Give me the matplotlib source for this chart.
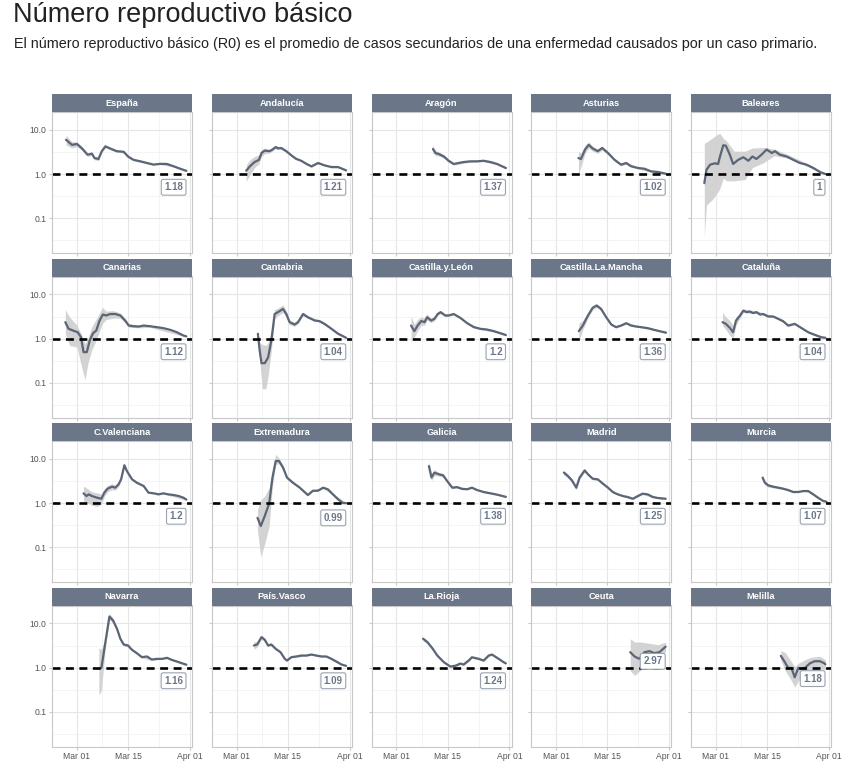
import numpy as np
import matplotlib.pyplot as plt

# Regions in panel order (5 columns x 4 rows)
regions = ["España", "Andalucía", "Aragón", "Asturias", "Baleares",
           "Canarias", "Cantabria", "Castilla.y.León", "Castilla.La.Mancha", "Cataluña",
           "C.Valenciana", "Extremadura", "Galicia", "Madrid", "Murcia",
           "Navarra", "País.Vasco", "La.Rioja", "Ceuta", "Melilla"]

# Last estimated R0 (shown in the boxed label)
last_r = [1.18, 1.21, 1.37, 1.02, 1, 1.12, 1.04, 1.2, 1.36, 1.04,
          1.2, 0.99, 1.38, 1.25, 1.07, 1.16, 1.09, 1.24, 2.97, 1.18]

# Day offsets from Mar 01 and estimated R0
days = {
    "España": [-3, -1.4, 0, 1.4, 2.9, 4.1, 4.8, 5.9, 6.8, 7.8, 9.1, 10.9, 12.8, 14, 15.5, 17.4, 19.2, 21, 22.8, 24.7, 26.5, 28.3, 30],
    "Andalucía": [2.6, 3.6, 4.9, 6.1, 6.8, 7.7, 9.0, 9.8, 10.7, 11.3, 12.2, 13.6, 15, 16.3, 17.7, 19.1, 20.5, 22.3, 24.1, 26, 27.8, 30],
    "Aragón": [10, 10.7, 11.6, 13, 14.3, 15.7, 17.1, 18.4, 20.3, 22.1, 23.9, 25.8, 27.6, 30],
    "Asturias": [6.1, 6.8, 7.9, 8.9, 10, 11.4, 12.6, 14.2, 16, 17.8, 19.2, 20.5, 22.4, 24.2, 26, 27.9, 30],
    "Baleares": [-3.2, -2.6, -1.6, -0.3, 0.6, 1.1, 2.0, 2.7, 3.8, 4.7, 6.1, 7.5, 8.9, 10, 11.1, 12.5, 13.9, 15.3, 16.2, 17.5, 19.4, 21.2, 23, 24.8, 26.7, 28.5, 30],
    "Canarias": [-3.2, -2.3, -1.1, 0.2, 1.1, 1.8, 2.7, 3.5, 4.4, 5.3, 6.2, 7.1, 8.0, 9.1, 10.5, 11.9, 13.2, 14.2, 15.5, 16.9, 18.3, 20.1, 21.9, 23.7, 25.6, 27.4, 29.2, 30],
    "Cantabria": [5.8, 6.3, 6.8, 7.7, 8.6, 9.5, 10.4, 11.3, 12.7, 13.6, 14.5, 15.9, 16.8, 18.2, 19.5, 21.4, 22.7, 24.1, 26, 27.8, 30],
    "Castilla.y.León": [4.0, 4.9, 5.8, 6.8, 7.7, 8.4, 9.5, 10.4, 11.3, 12.1, 13.4, 14.3, 15.7, 17.5, 19.4, 21.2, 23, 24.8, 26.7, 28.5, 30],
    "Castilla.La.Mancha": [6.2, 7.3, 8.7, 10, 11.1, 12.3, 13.7, 15.1, 16.4, 17.8, 19.2, 20.5, 21.9, 23.3, 25.1, 26.9, 28.8, 30.1],
    "Cataluña": [1.8, 2.7, 3.8, 4.7, 5.5, 6.6, 7.5, 8.4, 9.3, 10.2, 11.1, 12.1, 13, 14.3, 15.7, 17.1, 18.4, 19.8, 21.6, 23.5, 25.3, 27.1, 29, 30],
    "C.Valenciana": [1.8, 2.6, 3.2, 4.1, 5.5, 6.7, 7.5, 8.4, 9.6, 10.5, 11.4, 12.1, 13, 13.7, 15.1, 16.4, 18.3, 19.6, 21, 22.4, 23.7, 25.1, 26.5, 27.9, 29.2, 30],
    "Extremadura": [5.7, 6.6, 7.7, 8.9, 9.8, 10.7, 11.6, 12.7, 13.8, 15.4, 17.3, 19.5, 20.9, 22.3, 23.7, 25, 26.4, 27.8, 29.1, 30],
    "Galicia": [8.9, 9.6, 10.4, 11.6, 12.8, 13.9, 15.3, 16.6, 18, 19.4, 20.7, 22.1, 23.9, 25.8, 27.6, 30],
    "Madrid": [2.1, 3.2, 4.3, 5.5, 6.4, 7.8, 8.7, 10, 11.4, 12.8, 14.2, 15.5, 16.9, 18.3, 19.6, 21, 22.4, 23.7, 25.1, 26.5, 27.9, 30],
    "Murcia": [12.8, 13.4, 14.3, 15.7, 17.1, 18.4, 19.8, 21.2, 22.6, 23.9, 25.3, 26.7, 28, 29.4, 30.3],
    "Navarra": [6.7, 7.8, 8.9, 9.9, 11, 11.9, 12.8, 14, 15.1, 16.4, 17.8, 19.2, 20.5, 21.9, 23.3, 24.7, 26, 27.4, 28.8, 30],
    "País.Vasco": [4.7, 5.6, 6.8, 7.7, 8.6, 9.5, 10.7, 12, 13.2, 13.8, 15, 16.3, 17.7, 19.1, 20.5, 21.8, 23.2, 24.6, 26, 27.3, 28.7, 30],
    "La.Rioja": [7.3, 8.5, 9.9, 11.2, 13, 14.8, 16.2, 17.5, 18.4, 19.8, 20.7, 22.5, 23.9, 25.3, 26.2, 27.6, 29.4, 30],
    "Ceuta": [20.3, 21.5, 22.8, 24.2, 25.6, 26.9, 28.3, 30],
    "Melilla": [17.8, 18.9, 19.8, 20.7, 21.6, 22.6, 23.5, 24.4, 25.8, 27.1, 28.5, 29.7, 30],
}
r0 = {
    "España": [6.0, 4.6, 4.8, 3.8, 2.75, 2.9, 2.3, 2.2, 3.3, 4.25, 3.8, 3.3, 3.2, 2.5, 2.1, 1.94, 1.78, 1.63, 1.7, 1.69, 1.5, 1.32, 1.18],
    "Andalucía": [1.19, 1.49, 1.87, 2.1, 3.0, 3.4, 3.3, 3.6, 4.1, 3.8, 3.9, 3.3, 2.65, 2.2, 2.0, 1.7, 1.49, 1.78, 1.57, 1.44, 1.44, 1.21],
    "Aragón": [3.7, 3.0, 2.85, 2.5, 2.0, 1.69, 1.78, 1.87, 1.94, 1.94, 2.0, 1.87, 1.69, 1.37],
    "Asturias": [2.3, 2.2, 3.6, 4.6, 3.8, 3.3, 3.9, 3.0, 2.1, 1.63, 1.78, 1.5, 1.37, 1.32, 1.15, 1.11, 1.02],
    "Baleares": [0.62, 1.25, 1.63, 1.75, 1.69, 2.5, 4.5, 4.4, 2.75, 1.69, 2.1, 2.4, 2.0, 2.5, 2.2, 2.75, 3.6, 3.0, 3.3, 2.75, 2.5, 2.1, 1.78, 1.63, 1.37, 1.11, 1.0],
    "Canarias": [2.35, 1.66, 1.52, 1.39, 1.07, 0.49, 0.49, 0.9, 1.32, 1.52, 2.56, 3.5, 3.33, 3.6, 3.6, 3.33, 2.56, 1.97, 1.9, 1.87, 1.97, 1.9, 1.81, 1.72, 1.57, 1.39, 1.17, 1.12],
    "Cantabria": [1.28, 0.53, 0.275, 0.275, 0.37, 0.9, 3.6, 3.97, 4.7, 3.6, 2.35, 2.08, 2.35, 3.6, 3.05, 2.56, 2.48, 2.15, 1.66, 1.28, 1.04],
    "Castilla.y.León": [1.97, 1.47, 1.97, 2.5, 2.35, 3.05, 2.56, 2.8, 3.6, 3.97, 3.33, 3.33, 3.6, 2.95, 2.23, 1.81, 1.66, 1.6, 1.47, 1.32, 1.2],
    "Castilla.La.Mancha": [1.47, 1.97, 3.33, 5.0, 5.6, 4.7, 3.05, 2.08, 1.81, 1.97, 2.23, 1.97, 1.87, 1.81, 1.72, 1.57, 1.44, 1.36],
    "Cataluña": [2.35, 2.15, 1.75, 1.39, 2.56, 3.33, 4.3, 3.97, 4.1, 3.77, 3.97, 3.5, 3.6, 3.16, 3.16, 2.8, 2.48, 1.97, 2.15, 1.72, 1.39, 1.21, 1.06, 1.04],
    "C.Valenciana": [1.66, 1.44, 1.57, 1.44, 1.32, 1.25, 1.72, 2.12, 2.35, 2.23, 2.65, 3.45, 7.2, 5.3, 3.45, 2.9, 2.43, 1.72, 1.66, 1.57, 1.66, 1.57, 1.52, 1.44, 1.32, 1.2],
    "Extremadura": [0.46, 0.3, 0.51, 0.98, 3.77, 9.0, 9.0, 6.4, 3.77, 2.9, 2.23, 1.52, 1.9, 1.9, 2.23, 2.05, 1.57, 1.21, 1.0, 0.99],
    "Galicia": [6.9, 3.8, 4.9, 4.5, 4.25, 3.16, 2.23, 2.3, 2.1, 2.05, 2.23, 1.97, 1.78, 1.66, 1.55, 1.38],
    "Madrid": [4.9, 4.1, 3.27, 2.23, 3.77, 5.5, 4.5, 3.57, 3.45, 2.75, 2.23, 1.78, 1.57, 1.44, 1.37, 1.25, 1.44, 1.63, 1.57, 1.37, 1.3, 1.25],
    "Murcia": [3.77, 2.9, 2.52, 2.35, 2.23, 2.12, 1.97, 1.78, 1.78, 1.87, 1.87, 1.57, 1.32, 1.11, 1.07],
    "Navarra": [0.98, 3.77, 14.4, 11.7, 7.5, 4.5, 3.33, 3.16, 2.52, 2.12, 1.72, 1.78, 1.52, 1.57, 1.57, 1.66, 1.49, 1.37, 1.25, 1.16],
    "País.Vasco": [3.16, 3.33, 4.9, 4.25, 3.16, 3.33, 2.65, 2.23, 1.57, 1.44, 1.72, 1.78, 1.87, 1.87, 1.97, 1.87, 1.78, 1.78, 1.57, 1.37, 1.17, 1.09],
    "La.Rioja": [4.5, 3.76, 2.7, 1.87, 1.32, 1.05, 1.1, 1.23, 1.17, 1.44, 1.71, 1.58, 1.44, 1.87, 1.97, 1.66, 1.32, 1.24],
    "Ceuta": [2.23, 1.78, 1.57, 2.23, 2.35, 2.12, 2.23, 2.97],
    "Melilla": [1.84, 1.32, 0.98, 0.98, 0.6, 0.98, 0.93, 0.98, 1.25, 1.39, 1.39, 1.25, 1.18],
}
# Credible interval: (day, lower, upper)
band = {
    "España": [(-3, 4.6, 7.6), (-1.4, 3.9, 5.4), (0, 4.2, 5.4), (1.4, 3.4, 4.2), (2.9, 2.5, 3.0), (4.1, 2.65, 3.15), (4.8, 2.1, 2.5), (5.9, 2.0, 2.4), (6.8, 3.05, 3.55), (7.8, 3.95, 4.55), (9.1, 3.55, 4.05), (10.9, 3.1, 3.5), (12.8, 3.0, 3.4), (14, 2.35, 2.65), (15.5, 2.0, 2.2), (19.2, 1.7, 1.86), (22.8, 1.63, 1.77), (26.5, 1.44, 1.56), (30, 1.13, 1.23)],
    "Andalucía": [(2.6, 0.68, 1.6), (3.6, 0.95, 2.1), (4.9, 1.4, 2.5), (6.1, 1.7, 2.7), (6.8, 2.5, 3.6), (7.7, 2.9, 3.9), (9.0, 3.0, 3.6), (9.8, 3.3, 3.9), (10.7, 3.8, 4.4), (12.2, 3.65, 4.15), (13.6, 3.1, 3.5), (15, 2.5, 2.8), (17.7, 1.9, 2.1), (20.5, 1.42, 1.56), (22.3, 1.7, 1.86), (26, 1.38, 1.5), (27.8, 1.38, 1.5), (30, 1.16, 1.26)],
    "Aragón": [(10, 3.0, 4.5), (10.7, 2.6, 3.4), (11.6, 2.55, 3.2), (13, 2.3, 2.75), (14.3, 1.85, 2.15), (15.7, 1.6, 1.8), (17.1, 1.68, 1.88), (20.3, 1.85, 2.03), (23.9, 1.9, 2.1), (27.6, 1.6, 1.78), (30, 1.3, 1.44)],
    "Asturias": [(6.1, 0.95, 3.2), (6.8, 1.5, 3.0), (7.9, 2.9, 4.4), (8.9, 3.9, 5.4), (10, 3.3, 4.3), (11.4, 2.95, 3.7), (12.6, 3.5, 4.3), (14.2, 2.75, 3.25), (16, 1.95, 2.25), (17.8, 1.53, 1.73), (19.2, 1.68, 1.88), (22.4, 1.3, 1.44), (26, 1.09, 1.21), (30, 0.97, 1.07)],
    "Baleares": [(-3.2, 0.038, 5.0), (-2.6, 0.2, 5.3), (-1, 0.26, 6.6), (1, 0.45, 8.5), (2, 0.8, 6.5), (3, 0.7, 5.5), (5, 0.7, 3.3), (8, 0.75, 3.3), (10, 1.4, 3.9), (13, 1.8, 4.0), (16, 2.6, 3.7), (20, 2.25, 2.7), (25, 1.5, 1.75), (30, 0.95, 1.05)],
    "Canarias": [(-3.2, 1.28, 4.5), (-2, 0.69, 3.05), (0, 0.64, 2.0), (1.5, 0.19, 1.1), (2.2, 0.115, 0.76), (3, 0.27, 1.0), (4, 0.53, 1.8), (5, 0.82, 2.5), (7, 2.2, 5.1), (8.0, 2.7, 4.2), (10, 2.9, 4.3), (11.9, 2.9, 3.8), (13.2, 2.3, 2.9), (14.2, 1.8, 2.2), (16.9, 1.75, 2.0), (20, 1.8, 2.0), (30, 1.07, 1.17)],
    "Cantabria": [(5.8, 1.1, 1.45), (6.3, 0.32, 0.82), (7, 0.072, 0.73), (8, 0.072, 0.7), (8.6, 0.14, 0.8), (9.5, 0.53, 1.5), (10.4, 2.8, 4.6), (11.3, 3.3, 4.9), (12.7, 3.9, 5.8), (13.6, 3.1, 4.2), (14.5, 2.05, 2.65), (15.9, 1.9, 2.3), (16.8, 2.15, 2.6), (18.2, 3.3, 3.95), (19.5, 2.85, 3.25), (22.7, 2.35, 2.62), (26, 1.58, 1.75), (30, 0.99, 1.09)],
    "Castilla.y.León": [(4, 0.83, 3.2), (4.9, 1.05, 2.1), (5.8, 1.5, 2.7), (6.8, 2.0, 3.1), (7.7, 2.0, 2.9), (8.4, 2.6, 3.6), (9.5, 2.3, 2.9), (10.4, 2.5, 3.15), (11.3, 3.3, 3.95), (12.1, 3.65, 4.3), (13.4, 3.1, 3.6), (15.7, 3.4, 3.8), (17.5, 2.8, 3.1), (19.4, 2.12, 2.34), (23, 1.58, 1.74), (26.7, 1.4, 1.54), (30, 1.14, 1.26)],
    "Castilla.La.Mancha": [(6.2, 0.87, 2.2), (7.3, 1.6, 2.6), (8.7, 2.9, 3.8), (10, 4.5, 5.6), (11.1, 5.1, 6.2), (12.3, 4.35, 5.1), (13.7, 2.85, 3.25), (15.1, 1.97, 2.2), (16.4, 1.72, 1.9), (19.2, 2.12, 2.34), (23.3, 1.74, 1.89), (26.9, 1.51, 1.64), (30.1, 1.31, 1.42)],
    "Cataluña": [(1.8, 1.97, 3.9), (2.7, 1.6, 3.1), (3.8, 1.17, 2.56), (4.7, 1.03, 2.0), (5.5, 2.0, 3.1), (6.6, 2.9, 3.8), (7.5, 3.9, 4.75), (9.3, 3.75, 4.45), (11.1, 3.7, 4.25), (13, 3.35, 3.85), (15.7, 2.98, 3.34), (18.4, 2.35, 2.6), (19.8, 1.87, 2.07), (21.6, 2.05, 2.25), (25.3, 1.33, 1.45), (30, 0.99, 1.09)],
    "C.Valenciana": [(1.8, 1.11, 2.43), (4.1, 0.89, 1.8), (5.5, 0.83, 1.7), (6.7, 0.95, 1.6), (7.5, 1.4, 2.1), (8.4, 1.8, 2.5), (9.6, 2.0, 2.75), (10.5, 1.95, 2.55), (11.4, 2.35, 2.95), (12.1, 3.15, 3.8), (13, 6.5, 8.0), (13.7, 4.9, 5.7), (15.1, 3.25, 3.65), (16.4, 2.75, 3.05), (18.3, 2.32, 2.54), (19.6, 1.65, 1.8), (23.7, 1.6, 1.72), (30, 1.15, 1.25)],
    "Extremadura": [(5.7, 0.23, 0.72), (6.6, 0.06, 1.17), (7.7, 0.12, 1.44), (8.9, 0.3, 2.23), (9.8, 2.4, 5.5), (10.7, 7.5, 12.8), (11.6, 7.8, 10.5), (12.7, 5.7, 7.1), (13.8, 3.45, 4.1), (15.4, 2.72, 3.08), (17.3, 2.12, 2.34), (19.5, 1.45, 1.6), (20.9, 1.81, 1.99), (23.7, 2.12, 2.34), (26.4, 1.5, 1.64), (30, 0.95, 1.04)],
    "Galicia": [(8.9, 5.5, 9.0), (9.6, 3.2, 4.6), (10.4, 4.2, 5.7), (11.6, 4.1, 4.95), (12.8, 3.9, 4.6), (13.9, 2.95, 3.38), (15.3, 2.1, 2.36), (16.6, 2.18, 2.42), (18, 2.0, 2.2), (20.7, 2.13, 2.33), (23.9, 1.7, 1.86), (27.6, 1.49, 1.61), (30, 1.33, 1.43)],
    "Madrid": [(2.1, 4.3, 5.6), (3.2, 3.7, 4.5), (4.3, 2.95, 3.6), (5.5, 2.0, 2.5), (6.4, 3.45, 4.1), (7.8, 5.0, 6.0), (8.7, 4.2, 4.8), (10, 3.35, 3.8), (11.4, 3.25, 3.65), (12.8, 2.6, 2.9), (14.2, 2.12, 2.34), (15.5, 1.7, 1.86), (18.3, 1.38, 1.5), (21, 1.2, 1.3), (23.7, 1.56, 1.7), (26.5, 1.31, 1.43), (30, 1.2, 1.3)],
    "Murcia": [(12.8, 3.3, 4.3), (13.4, 2.6, 3.25), (14.3, 2.3, 2.75), (15.7, 2.2, 2.52), (18.4, 2.02, 2.22), (21.2, 1.7, 1.87), (23.9, 1.79, 1.95), (25.3, 1.79, 1.95), (26.7, 1.5, 1.64), (28, 1.26, 1.38), (30.3, 1.02, 1.12)],
    "Navarra": [(6.0, 0.24, 2.8), (6.7, 0.3, 2.6), (7.8, 3.0, 4.6), (8.9, 12.0, 17.0), (9.9, 10.5, 13.0), (11, 6.8, 8.3), (11.9, 4.15, 4.9), (12.8, 3.1, 3.6), (14, 2.95, 3.4), (15.1, 2.38, 2.66), (16.4, 2.02, 2.22), (17.8, 1.64, 1.8), (20.5, 1.45, 1.59), (24.7, 1.59, 1.73), (27.4, 1.31, 1.43), (30, 1.1, 1.22)],
    "País.Vasco": [(4.7, 2.6, 3.9), (5.6, 2.9, 3.8), (6.8, 4.4, 5.4), (7.7, 3.9, 4.6), (8.6, 2.95, 3.4), (9.5, 3.1, 3.55), (10.7, 2.5, 2.82), (12, 2.12, 2.35), (13.2, 1.5, 1.65), (13.8, 1.37, 1.52), (15, 1.65, 1.8), (20.5, 1.88, 2.06), (24.6, 1.7, 1.86), (27.3, 1.31, 1.43), (30, 1.04, 1.14)],
    "La.Rioja": [(7.3, 4.0, 5.0), (8.5, 3.45, 4.1), (9.9, 2.5, 2.9), (11.2, 1.76, 1.98), (13, 1.25, 1.4), (14.8, 0.99, 1.11), (16.2, 1.03, 1.17), (17.5, 1.16, 1.3), (18.4, 1.1, 1.24), (19.8, 1.36, 1.52), (20.7, 1.62, 1.8), (22.5, 1.5, 1.66), (23.9, 1.37, 1.51), (25.3, 1.78, 1.96), (26.2, 1.88, 2.06), (27.6, 1.58, 1.74), (30, 1.18, 1.3)],
    "Ceuta": [(20.3, 0.85, 4.5), (21.5, 0.66, 3.8), (23, 0.85, 3.8), (25, 1.15, 3.6), (28, 1.3, 3.3), (30, 2.35, 3.8)],
    "Melilla": [(17.8, 1.44, 2.43), (19, 0.85, 2.2), (20.7, 0.5, 1.35), (21.6, 0.36, 1.05), (22.6, 0.5, 1.25), (24.4, 0.62, 1.5), (26, 0.85, 1.7), (28.5, 0.93, 1.8), (30, 0.9, 1.5)],
}

x_ticks = [0, 14, 31]
x_labels = ["Mar 01", "Mar 15", "Apr 01"]
y_ticks = [0.1, 1, 10]
y_labels = ["0.1", "1.0", "10.0"]

W, H = 867, 767
strip_col = "#6b7789"
line_col = "#5a6576"
plt.rcParams["font.family"] = ["Liberation Sans", "DejaVu Sans"]

fig = plt.figure(figsize=(W / 100, H / 100), dpi=100)
fig.text(13 / W, 1 - 15 / H, "Número reproductivo básico", fontsize=19.5,
         va="center", ha="left", color="#222222")
fig.text(14 / W, 1 - 44 / H,
         "El número reproductivo básico (R0) es el promedio de casos secundarios "
         "de una enfermedad causados por un caso primario.",
         fontsize=10.4, va="center", ha="left", color="#222222")

for i, name in enumerate(regions):
    row, col = divmod(i, 5)
    left = 52 + col * 159.75
    top = 112 + row * 164.5
    ax = fig.add_axes([left / W, 1 - (top + 141) / H, 140 / W, 141 / H])
    sx = fig.add_axes([left / W, 1 - top / H, 140 / W, 18 / H])
    sx.set_facecolor(strip_col)
    sx.set_xticks([]); sx.set_yticks([])
    for s in sx.spines.values():
        s.set_visible(False)
    sx.text(0.5, 0.5, name, color="white", fontweight="bold", fontsize=6.7,
            ha="center", va="center", transform=sx.transAxes)

    ax.set_yscale("log")
    ax.set_xlim(-6.85, 31.55)
    ax.set_ylim(10 ** -1.795, 10 ** 1.409)
    ax.set_xticks(x_ticks)
    ax.set_xticks([7, 22.5], minor=True)
    ax.set_yticks(y_ticks)
    ax.set_yticks([10 ** -1.5, 10 ** -0.5, 10 ** 0.5], minor=True)
    ax.yaxis.set_minor_formatter(plt.NullFormatter())
    ax.grid(which="major", color="#e6e6e6", lw=0.8)
    ax.grid(which="minor", color="#f0f0f0", lw=0.5)
    ax.set_axisbelow(True)
    for s in ax.spines.values():
        s.set_color("#c8c8c8")
        s.set_linewidth(0.8)
    ax.tick_params(which="both", length=0)
    ax.tick_params(which="major", length=2, color="#c8c8c8", labelsize=6.2,
                   labelcolor="#555555", pad=2)
    if col == 0:
        ax.set_yticklabels(y_labels)
    else:
        ax.set_yticklabels([])
    if row == 3:
        ax.set_xticklabels(x_labels)
    else:
        ax.set_xticklabels([])

    b = np.array(band[name])
    ax.fill_between(b[:, 0], b[:, 1], b[:, 2], color="#cfcfcf", lw=0, alpha=0.9)
    ax.plot(days[name], r0[name], color=line_col, lw=1.6, solid_capstyle="round")
    ax.axhline(1, color="black", lw=1.9, dashes=(3, 2.1))

    ly = 0.5
    if name == "Ceuta":
        ly = 1.38
    elif name == "Extremadura":
        ly = 0.46
    elif name == "Melilla":
        ly = 0.56
    ax.text(29.1, ly, f"{last_r[i]:g}", ha="right", va="center", fontsize=7,
            fontweight="bold", color="#6b7789",
            bbox=dict(boxstyle="round,pad=0.3,rounding_size=0.2", fc="white",
                      ec="#9aa3ae", lw=0.8))

fig.savefig("out.png", dpi=100)
